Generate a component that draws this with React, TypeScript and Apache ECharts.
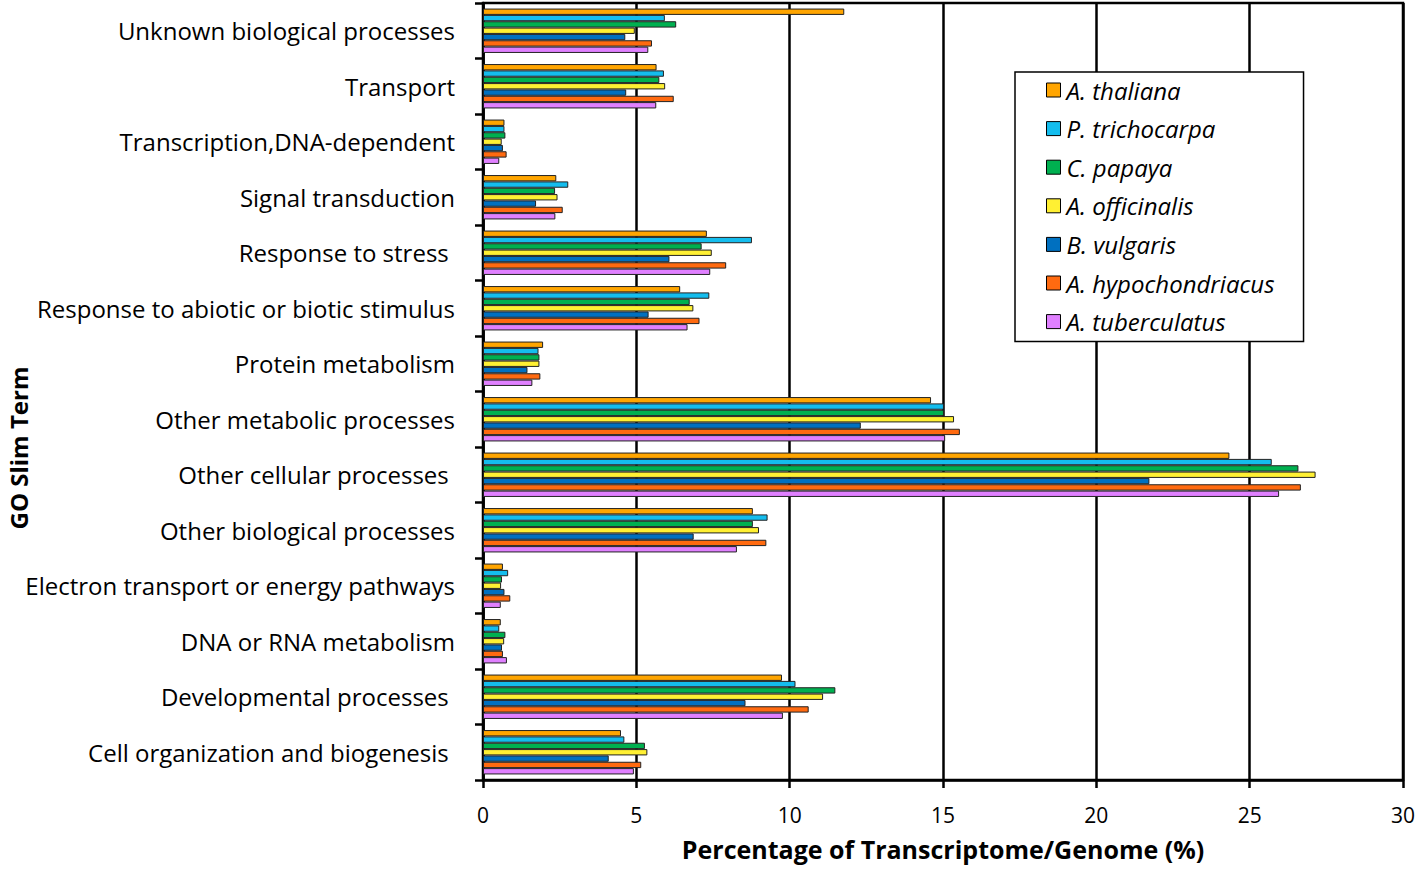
import React, { useEffect, useRef } from "react";
import * as echarts from "echarts";

const categories = [
  "Unknown biological processes",
  "Transport",
  "Transcription,DNA-dependent",
  "Signal transduction",
  "Response to stress ",
  "Response to abiotic or biotic stimulus",
  "Protein metabolism",
  "Other metabolic processes",
  "Other cellular processes ",
  "Other biological processes",
  "Electron transport or energy pathways",
  "DNA or RNA metabolism",
  "Developmental processes ",
  "Cell organization and biogenesis ",
];

const speciesNames = [
  "A. thaliana",
  "P. trichocarpa",
  "C. papaya",
  "A. officinalis",
  "B. vulgaris",
  "A. hypochondriacus",
  "A. tuberculatus",
];

const speciesColors = ["#FFA500", "#14BDEE", "#00B050", "#FFF033", "#0070C0", "#FF6A10", "#E080FF"];

const thaliana = [11.78, 5.66, 0.70, 2.39, 7.30, 6.43, 1.96, 14.61, 24.34, 8.80, 0.65, 0.58, 9.75, 4.50];
const trichocarpa = [5.93, 5.90, 0.70, 2.78, 8.77, 7.38, 1.81, 15.03, 25.72, 9.28, 0.82, 0.53, 10.19, 4.61];
const papaya = [6.30, 5.75, 0.73, 2.35, 7.13, 6.74, 1.84, 15.03, 26.59, 8.80, 0.62, 0.73, 11.49, 5.28];
const officinalis = [4.95, 5.94, 0.61, 2.43, 7.46, 6.86, 1.84, 15.36, 27.15, 9.00, 0.59, 0.69, 11.09, 5.36];
const vulgaris = [4.64, 4.67, 0.65, 1.73, 6.08, 5.40, 1.45, 12.32, 21.73, 6.87, 0.70, 0.62, 8.56, 4.10];
const hypochondriacus = [5.51, 6.22, 0.77, 2.60, 7.93, 7.06, 1.87, 15.55, 26.67, 9.24, 0.89, 0.65, 10.62, 5.16];
const tuberculatus = [5.39, 5.65, 0.53, 2.36, 7.41, 6.67, 1.61, 15.07, 25.96, 8.28, 0.58, 0.78, 9.78, 4.92];

const seriesData = [thaliana, trichocarpa, papaya, officinalis, vulgaris, hypochondriacus, tuberculatus];

const xTicks = { min: 0, max: 30, interval: 5 };

const FONT = "'Open Sans', 'DejaVu Sans', sans-serif";

export default function App() {
  const ref = useRef<HTMLDivElement>(null);
  useEffect(() => {
    if (!ref.current) return;
    const chart = echarts.init(ref.current, null, { renderer: "svg" });
    chart.setOption({
      animation: false,
      backgroundColor: "#ffffff",
      grid: {
        left: 483,
        right: 15,
        top: 3,
        bottom: 89,
        show: true,
        borderColor: "#000",
        borderWidth: 2.5,
        containLabel: false,
      },
      legend: {
        orient: "vertical",
        left: 1015,
        top: 72,
        data: speciesNames,
        backgroundColor: "#fff",
        borderColor: "#000",
        borderWidth: 1.5,
        padding: [6, 29, 8, 31],
        itemWidth: 14,
        itemHeight: 14,
        itemGap: 14.6,
        icon: "rect",
        itemStyle: { borderColor: "#000", borderWidth: 1 },
        textStyle: {
          fontFamily: FONT,
          fontStyle: "italic",
          fontSize: 24,
          lineHeight: 22,
          color: "#000",
          padding: [0, 0, 0, 1],
        },
      },
      graphic: [
        {
          type: "text",
          x: 18,
          y: 448,
          rotation: Math.PI / 2,
          style: {
            text: "GO Slim Term",
            fontFamily: FONT,
            fontWeight: "bold",
            fontSize: 24,
            fill: "#000",
            align: "center",
            verticalAlign: "middle",
          },
        },
      ],
      xAxis: {
        type: "value",
        min: xTicks.min,
        max: xTicks.max,
        interval: xTicks.interval,
        name: "Percentage of Transcriptome/Genome (%)",
        nameLocation: "middle",
        nameGap: 56,
        nameTextStyle: { fontFamily: FONT, fontWeight: "bold", fontSize: 25, color: "#000" },
        axisLine: { show: true, lineStyle: { color: "#000", width: 2.5 } },
        axisTick: { show: true, length: 8, lineStyle: { color: "#000", width: 2.5 } },
        axisLabel: { fontFamily: FONT, fontSize: 21, color: "#000", margin: 24 },
        splitLine: { show: true, lineStyle: { color: "#000", width: 2.5 } },
      },
      yAxis: {
        type: "category",
        inverse: true,
        data: categories,
        axisLine: { show: true, lineStyle: { color: "#000", width: 2.5 } },
        axisTick: { show: true, length: 8, lineStyle: { color: "#000", width: 2.5 } },
        axisLabel: { fontFamily: FONT, fontSize: 24, color: "#000", margin: 28 },
        splitLine: { show: false },
      },
      series: speciesNames.map((name, i) => ({
        name,
        type: "bar",
        data: seriesData[i],
        barGap: "0%",
        barCategoryGap: "20%",
        itemStyle: { color: speciesColors[i], borderColor: "#222", borderWidth: 1 },
      })),
    });
    return () => chart.dispose();
  }, []);
  return <div ref={ref} style={{ width: 1418, height: 869, position: "absolute", left: 0, top: 0 }} />;
}
